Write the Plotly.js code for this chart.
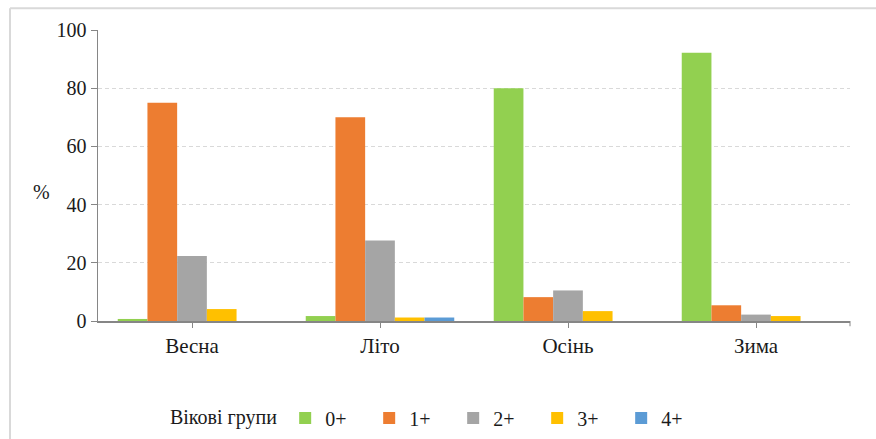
<!DOCTYPE html>
<html><head><meta charset="utf-8">
<script src="https://cdn.plot.ly/plotly-3.0.1.min.js"></script>
<style>
html,body{margin:0;padding:0;background:#fff;}#chart{width:876px;height:439px;}
#chart .legendtext, #chart .legendtitletext { font-family: 'Liberation Serif', serif !important; }
</style>
</head><body><div id="chart"></div>
<script>
const seasons = ["Весна", "Літо", "Осінь", "Зима"];
const groupNames = ["0+", "1+", "2+", "3+", "4+"];
const g0 = [0.7, 1.7, 80, 92.2];
const g1 = [75, 70, 8.2, 5.4];
const g2 = [22.3, 27.7, 10.5, 2.2];
const g3 = [4.1, 1.2, 3.4, 1.7];
const g4 = [0, 1.2, 0, 0];
const colors = ["#92d050", "#ed7d31", "#a5a5a5", "#ffc000", "#5b9bd5"];
const series = [g0, g1, g2, g3, g4];

const font = "Liberation Serif";
const traces = series.map((vals, i) => ({
  type: "bar", x: seasons, y: vals, name: groupNames[i],
  marker: {color: colors[i], line: {width: 0}}
}));

const layout = {
  width: 876, height: 439,
  margin: {l: 98, r: 26, t: 30, b: 118, autoexpand: false},
  paper_bgcolor: "#fff", plot_bgcolor: "#fff",
  barmode: "group", bargap: 0.21, bargroupgap: 0,
  font: {family: font, size: 18, color: "#1a1a1a"},
  xaxis: {
    type: "category", showline: true, linecolor: "#868686", linewidth: 1.5,
    ticks: "outside", ticklen: 5, tickcolor: "#868686",
    tickfont: {family: font, size: 21}, showgrid: false, zeroline: false
  },
  yaxis: {
    range: [0, 100], dtick: 20, showline: true, linecolor: "#868686", linewidth: 1.5,
    ticks: "outside", ticklen: 6, tickcolor: "#868686",
    tickfont: {family: font, size: 20},
    showgrid: true, gridcolor: "#d9d9d9", griddash: "4px,3px", gridwidth: 1,
    zeroline: false
  },
  annotations: [
    {text: "%", xref: "paper", yref: "paper", x: -0.075, y: 0.445, showarrow: false,
     xanchor: "center", yanchor: "middle", font: {family: font, size: 20, color: "#1a1a1a"}}
  ],
  showlegend: true,
  legend: {
    orientation: "h", x: 0.093, xanchor: "left", y: -0.333, yanchor: "middle",
    font: {family: font, size: 20, color: "#1a1a1a"},
    title: {text: "Вікові групи", font: {family: font, size: 20, color: "#1a1a1a"}, side: "left"},
    itemwidth: 30, entrywidth: 39, entrywidthmode: "pixels", traceorder: "normal"
  },
  shapes: [
    {type: "line", xref: "paper", yref: "paper", x0: -0.117, x1: 1.04, y0: 1.075, y1: 1.075,
     line: {color: "#d9d9d9", width: 2}},
    {type: "line", xref: "paper", yref: "paper", x0: -0.117, x1: -0.117, y0: 1.075, y1: -0.42,
     line: {color: "#d9d9d9", width: 2}},
    {type: "line", xref: "paper", yref: "paper", x0: 1, x1: 1, y0: 0, y1: -0.018,
     line: {color: "#868686", width: 1}}
  ]
};
Plotly.newPlot("chart", traces, layout, {displayModeBar: false, staticPlot: true});
</script></body></html>
